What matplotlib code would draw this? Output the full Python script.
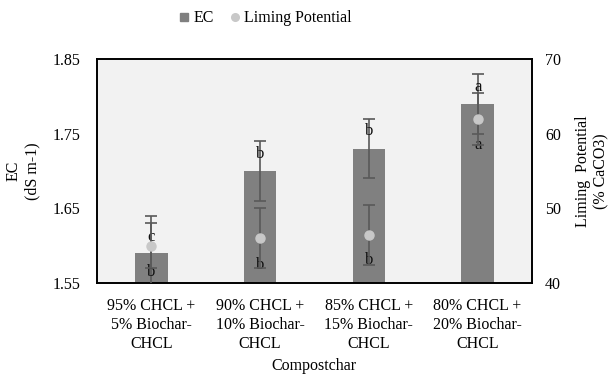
import matplotlib
matplotlib.use("Agg")
import matplotlib.pyplot as plt
import numpy as np

plt.rcParams['font.family'] = ['Liberation Serif', 'DejaVu Serif']

# data
categories = ["95% CHCL +\n5% Biochar-\nCHCL", "90% CHCL +\n10% Biochar-\nCHCL",
              "85% CHCL +\n15% Biochar-\nCHCL", "80% CHCL +\n20% Biochar-\nCHCL"]
ec = [1.59, 1.70, 1.73, 1.79]
ec_err = [0.05, 0.04, 0.04, 0.04]
liming = [45.0, 46.0, 46.4, 62.0]
liming_err = [3.0, 4.0, 4.0, 3.5]

# significance letters (text) and where they sit on the EC scale
letters_top = ["c", "b", "b", "a"]
letters_top_y = [1.612, 1.723, 1.753, 1.812]
letters_low = ["b", "b", "b", "a"]
letters_low_y = [1.565, 1.574, 1.581, 1.735]

fig = plt.figure(figsize=(6.09, 3.77), dpi=100)
ax = fig.add_axes([0.159, 0.2493, 0.7146, 0.5942])
x = np.arange(len(categories))

ax.set_facecolor("#f2f2f2")
ax.bar(x, ec, width=0.3, color="#808080", zorder=2, label="EC")
ax.errorbar(x, ec, yerr=ec_err, fmt="none", ecolor="#595959", elinewidth=1.2,
            capsize=4, capthick=1.2, zorder=3)
ax.set_ylim(1.55, 1.85)
ax.set_yticks([1.55, 1.65, 1.75, 1.85])
ax.set_xlim(-0.5, 3.5)
ax.set_xticks(x)
ax.set_xticklabels(categories, fontsize=11.5, linespacing=1.25)
ax.tick_params(axis="y", length=0, labelsize=11.5, pad=11.5)
ax.tick_params(axis="x", length=0, labelsize=11.5, pad=11)
ax.set_ylabel("EC\n(dS m-1)", fontsize=11.5, labelpad=9)
ax.set_xlabel("Compostchar", fontsize=11.5, labelpad=4)
for s in ax.spines.values():
    s.set_linewidth(1.4)
    s.set_color("black")

ax2 = ax.twinx()
ax2.patch.set_visible(False)
ax2.errorbar(x, liming, yerr=liming_err, fmt="o", color="#c8c8c8", markersize=6.5,
             ecolor="#595959", elinewidth=1.2, capsize=4, capthick=1.2, zorder=3)
ax2.set_ylim(40, 70)
ax2.set_yticks([40, 50, 60, 70])
ax2.tick_params(axis="y", length=0, labelsize=11.5, pad=9.5)
ax2.set_ylabel("Liming  Potential\n(% CaCO3)", fontsize=11.5, labelpad=10)
for s in ax2.spines.values():
    s.set_visible(False)

for i in range(len(categories)):
    ax.text(x[i], letters_top_y[i], letters_top[i], ha="center", va="center",
            fontsize=12, color="#111111", zorder=5)
    ax.text(x[i], letters_low_y[i], letters_low[i], ha="center", va="center",
            fontsize=12, color="#111111", zorder=5)

h1 = plt.Line2D([], [], marker="s", linestyle="none", color="#808080", markersize=5.5)
h2 = plt.Line2D([], [], marker="o", linestyle="none", color="#c8c8c8", markersize=5.5)
fig.legend([h1, h2], ["EC", "Liming Potential"], loc="center", bbox_to_anchor=(0.436, 0.952),
           ncol=2, frameon=False, fontsize=11.5, handlelength=0.6, handletextpad=0.3,
           columnspacing=1.0)

plt.savefig("out.png", dpi=100)
